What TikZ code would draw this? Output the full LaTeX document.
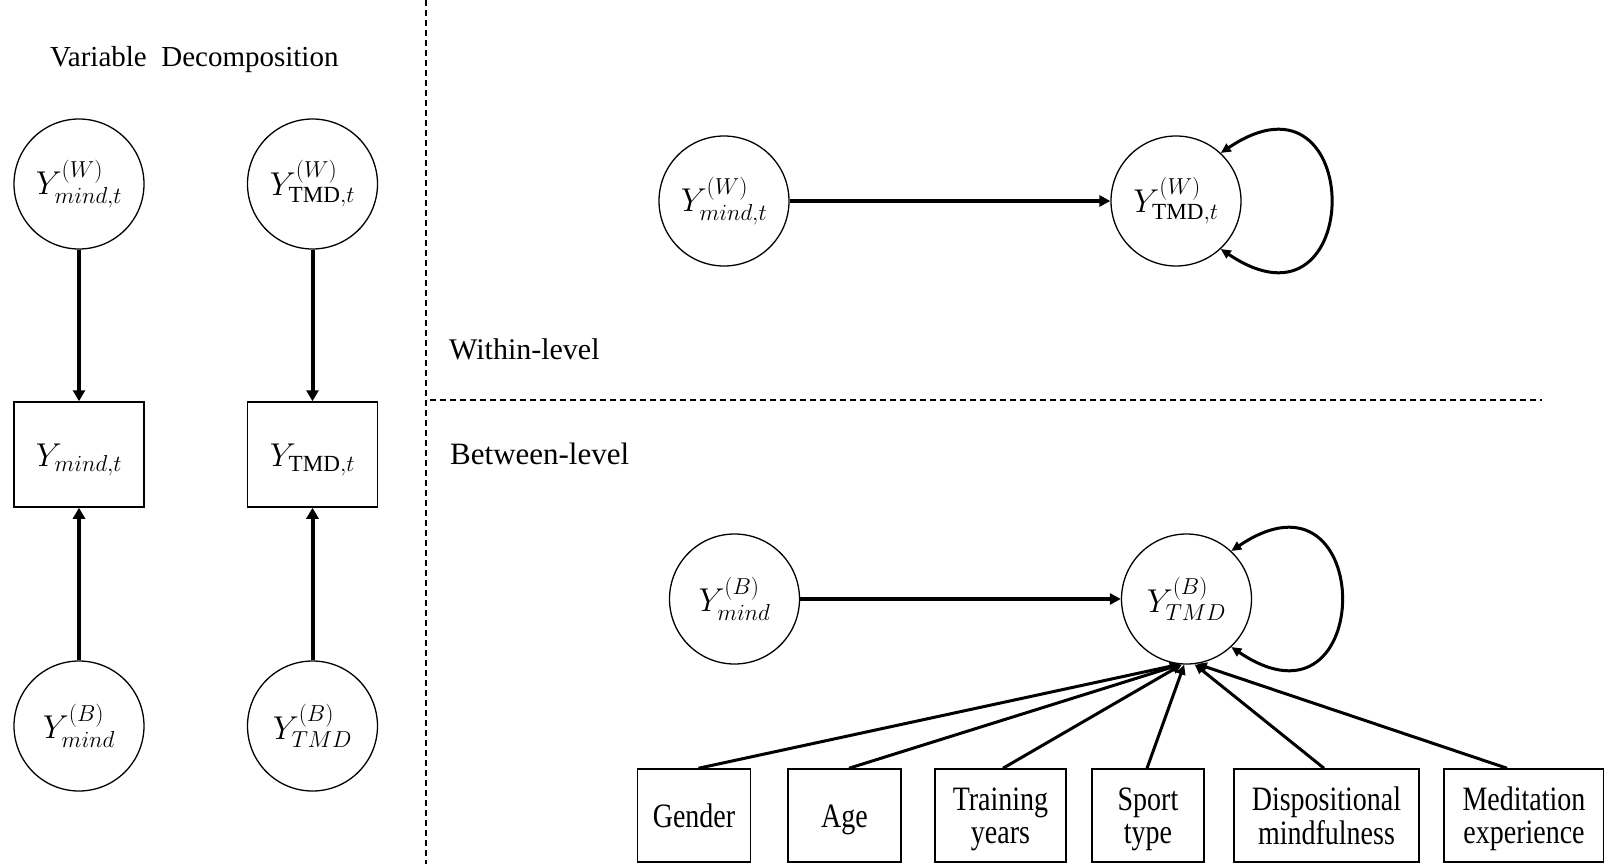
\RequirePackage{fix-cm}
\documentclass[tikz,border=0pt]{standalone}
\usepackage{amsmath}
\usepackage{fontspec}
\setmainfont{Liberation Serif}
\usepackage{graphicx}
\usetikzlibrary{arrows.meta}
\newcommand{\covtext}[1]{\raisebox{-5pt}[\height][\depth]{\scalebox{1}[1.22]{\begin{tabular}{@{}c@{}}#1\end{tabular}}}}
\newcommand{\tmdup}{\text{TMD}}
\begin{document}
\begin{tikzpicture}[x=1pt,y=1pt,
  latent/.style={circle, draw, line width=1.3pt, minimum size=130pt, inner sep=0pt,
    font=\fontsize{33}{40}\selectfont},
  obsbox/.style={rectangle, draw, line width=1.5pt, minimum width=130pt, minimum height=105pt,
    inner sep=0pt, font=\fontsize{33}{40}\selectfont},
  covbox/.style={rectangle, draw, line width=1.5pt, minimum height=93pt, inner sep=0pt,
    font=\fontsize{28}{27}\selectfont},
  lbl/.style={anchor=base west, inner sep=0pt},
  bigpath/.style={-{Triangle[length=11pt,width=12pt]}, line width=4pt},
  hpath/.style={-{Triangle[length=11pt,width=11pt]}, line width=3.5pt},
  cpath/.style={-{Triangle[length=10pt,width=9pt]}, line width=3pt},
  varloop/.style={{Triangle[length=10pt,width=9pt]}-{Triangle[length=10pt,width=9pt]}, line width=3pt},
  divider/.style={line width=1.2pt, dash pattern=on 6pt off 4pt}
]
\fill[white] (0,0) rectangle (1604,-864);
\useasboundingbox (0,0) rectangle (1604,-864);

% dividers
\draw[divider] (426,0) -- (426,-864);
\draw[divider] (430,-400) -- (1542,-400);

% labels
\node[lbl, font=\fontsize{29}{34}\selectfont] (vd) at (50,-66.7) {Variable\hspace{0.5em}Decomposition};
\node[lbl, font=\fontsize{30}{36}\selectfont] (wl) at (449,-359.3) {Within-level};
\node[lbl, font=\fontsize{31}{36}\selectfont] (bl) at (450,-464) {Between-level};

% left panel
\node[latent] (Wm) at (79,-184) {$Y^{(W)}_{mind,t}$};
\node[latent] (Wt) at (312.5,-184) {$Y^{(W)}_{\tmdup,t}$};
\node[obsbox] (Om) at (79,-454.5) {\raisebox{-5pt}[\height][\depth]{$Y_{mind,t}$}};
\node[obsbox] (Ot) at (312.5,-454.5) {\raisebox{-5pt}[\height][\depth]{$Y_{\tmdup,t}$}};
\node[latent] (Bm) at (79,-726) {$Y^{(B)}_{mind}$};
\node[latent] (Bt) at (312.5,-726) {$Y^{(B)}_{TMD}$};
\draw[bigpath] (Wm) -- (Om);
\draw[bigpath] (Wt) -- (Ot);
\draw[bigpath] (Bm) -- (Om);
\draw[bigpath] (Bt) -- (Ot);

% within level
\node[latent] (WWm) at (724,-201) {$Y^{(W)}_{mind,t}$};
\node[latent] (WWt) at (1176,-201) {$Y^{(W)}_{\tmdup,t}$};
\draw[hpath] (WWm) -- (WWt);
\draw[varloop] (WWt.47) .. controls +(34:176) and +(-34:176) .. (WWt.-47);

% between level
\node[latent] (BBm) at (734.5,-599) {$Y^{(B)}_{mind}$};
\node[latent] (BBt) at (1186.5,-599) {$Y^{(B)}_{TMD}$};
\draw[hpath] (BBm) -- (BBt);
\draw[varloop] (BBt.47) .. controls +(34:176) and +(-34:176) .. (BBt.-47);

% covariates
\node[covbox, minimum width=113pt] (gen) at (694,-815.5) {\covtext{Gender}};
\node[covbox, minimum width=113pt] (age) at (844.5,-815.5) {\covtext{Age}};
\node[covbox, minimum width=131pt] (trn) at (1000.5,-815.5) {\covtext{Training\\years}};
\node[covbox, minimum width=112pt] (spt) at (1148,-815.5) {\covtext{Sport\\type}};
\node[covbox, minimum width=185pt] (dsp) at (1326.5,-815.5) {\covtext{Dispositional\\mindfulness}};
\node[covbox, minimum width=160pt] (med) at (1524,-815.5) {\covtext{Meditation\\experience}};

\draw[cpath] ([xshift=4.5pt]gen.north) -- (BBt.264);
\draw[cpath] ([xshift=4.5pt]age.north) -- (BBt.265);
\draw[cpath] ([xshift=2.5pt]trn.north) -- (BBt.266);
\draw[cpath] ([xshift=-1pt]spt.north) -- (BBt.268);
\draw[cpath] ([xshift=-2.5pt]dsp.north) -- (BBt.277);
\draw[cpath] ([xshift=-17pt]med.north) -- (BBt.279);
\end{tikzpicture}
\end{document}
